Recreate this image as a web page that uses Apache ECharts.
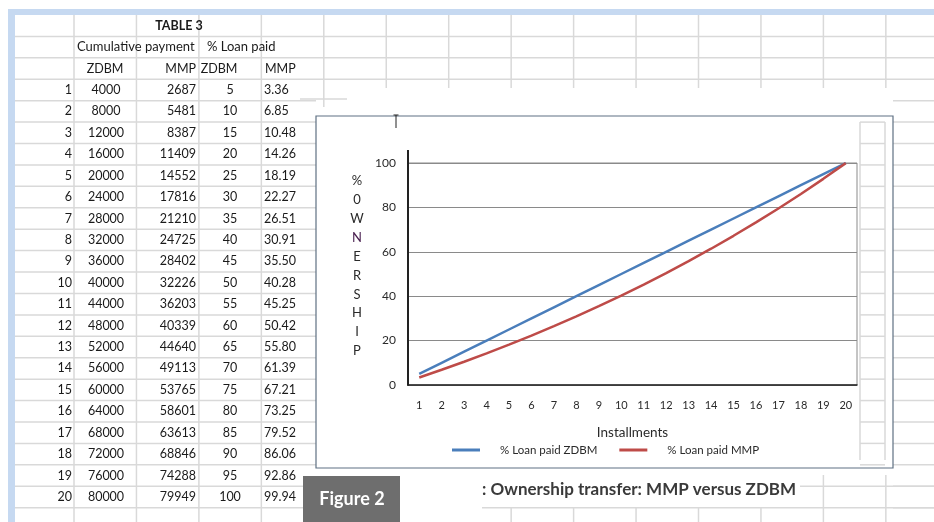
<!DOCTYPE html>
<html>
<head>
<meta charset="utf-8">
<title>Ownership transfer: MMP versus ZDBM</title>
<script src="https://cdn.jsdelivr.net/npm/echarts@6/dist/echarts.min.js"></script>
<style>
  html, body { margin: 0; padding: 0; background: #fff; }
  #main { width: 934px; height: 522px; }
</style>
</head>
<body>
<div id="main"></div>
<script>
// table 3 data
var installments = ['1', '2', '3', '4', '5', '6', '7', '8', '9', '10',
  '11', '12', '13', '14', '15', '16', '17', '18', '19', '20']
var cumZDBM = [4000, 8000, 12000, 16000, 20000, 24000, 28000, 32000, 36000, 40000,
  44000, 48000, 52000, 56000, 60000, 64000, 68000, 72000, 76000, 80000]
var cumMMP = [2687, 5481, 8387, 11409, 14552, 17816, 21210, 24725, 28402, 32226,
  36203, 40339, 44640, 49113, 53765, 58601, 63613, 68846, 74288, 79949]
var pctZDBM = [5, 10, 15, 20, 25, 30, 35, 40, 45, 50,
  55, 60, 65, 70, 75, 80, 85, 90, 95, 100]
var pctMMP = [3.36, 6.85, 10.48, 14.26, 18.19, 22.27, 26.51, 30.91, 35.50, 40.28,
  45.25, 50.42, 55.80, 61.39, 67.21, 73.25, 79.52, 86.06, 92.86, 99.94]
var yTitle = ['%', '0', 'W', 'N', 'E', 'R', 'S', 'H', 'I', 'P']

var FONT = 'Lato, "Open Sans", sans-serif'
var GRID = '#d9d9d9'
var ROW0 = 15
var ROWH = 21.42
var COLW = 62.45

function rowY(i) { return ROW0 + ROWH * i }

var g = []

function line(x1, y1, x2, y2, color, w, z) {
  g.push({
    type: 'line', z: z === undefined ? -10 : z, silent: true,
    shape: { x1: x1, y1: y1, x2: x2, y2: y2 },
    style: { stroke: color || GRID, lineWidth: w || 1.5 }
  })
}
function text(str, x, y, opt) {
  opt = opt || {}
  g.push({
    type: 'text', z: opt.z || 5, silent: true, x: x, y: y,
    style: {
      text: str, fill: opt.color || '#1a1a1a', fontFamily: FONT,
      fontSize: opt.size || 12.5, fontWeight: opt.weight || 'normal',
      align: opt.align || 'center', verticalAlign: 'middle'
    }
  })
}

// spreadsheet frame
g.push({ type: 'rect', z: -9, silent: true, shape: { x: 8, y: 9, width: 926, height: 6 }, style: { fill: '#c6d9f1' } })
g.push({ type: 'rect', z: -9, silent: true, shape: { x: 8, y: 9, width: 7, height: 513 }, style: { fill: '#c6d9f1' } })

// horizontal gridlines
for (var i = 1; i <= 23; i++) {
  var y = rowY(i)
  line(15, y, i <= 3 ? 934 : 316, y)
  if (i >= 4) line(893, y, 934, y)
  if (i >= 5 && i <= 21) line(860, y, 885, y, GRID, 1.5, -4)
}
line(300, 99, 347, 99)
line(800, rowY(22), 934, rowY(22))
line(482, rowY(23), 934, rowY(23))

// vertical gridlines
for (var c = 0; c < 14; c++) {
  var x = 74 + COLW * c
  if (c < 4) {
    line(x, 15, x, 522)
  } else if (c === 4) {
    line(x, 15, x, 107)
  } else {
    line(x, 15, x, 88)
    if (x > 490 && x < 800) line(x, rowY(23), x, 522)
    if (x >= 800) line(x, 475, x, 522)
  }
}
line(860, 122, 860, 460, GRID, 1.5, -4)
line(885, 122, 885, 460, GRID, 1.5, -4)

// table text
text('TABLE 3', 179, rowY(0.5), { weight: 'bold' })
text('Cumulative payment', 77, rowY(1.5), { align: 'left', size: 13 })
text('% Loan paid', 207, rowY(1.5), { align: 'left', size: 13 })
text('ZDBM', 105, rowY(2.5))
text('MMP', 196, rowY(2.5), { align: 'right' })
text('ZDBM', 219, rowY(2.5))
text('MMP', 265, rowY(2.5), { align: 'left' })
for (var k = 0; k < installments.length; k++) {
  var ry = rowY(k + 3.5)
  text(installments[k], 72, ry, { align: 'right' })
  text(String(cumZDBM[k]), 106, ry)
  text(String(cumMMP[k]), 196, ry, { align: 'right' })
  text(String(pctZDBM[k]), 230, ry)
  text(pctMMP[k].toFixed(2), 264, ry, { align: 'left' })
}

// chart box
g.push({
  type: 'rect', z: -5, silent: true,
  shape: { x: 316, y: 116, width: 577, height: 352 },
  style: { fill: '#fff', stroke: '#5f7183', lineWidth: 1.2 }
})
// text cursor
line(396, 115, 396, 128, '#222', 1, 6)
line(393.5, 115, 398.5, 115, '#222', 1, 6)
// y axis line overhang
line(408, 150, 408, 164, '#222', 2, 6)

// vertical axis title
for (var t = 0; t < yTitle.length; t++) {
  text(yTitle[t], 357, 181 + 18.9 * t, { size: 13, color: yTitle[t] === 'N' ? '#4a2050' : '#2a2a2a' })
}

// figure label and caption
g.push({
  type: 'rect', z: 8, silent: true,
  shape: { x: 303, y: 476, width: 97, height: 46 },
  style: { fill: '#6e6e6e' }
})
text('Figure 2', 352, 499, { size: 18, weight: 'bold', color: '#fff', z: 9 })
text(': Ownership transfer: MMP versus ZDBM', 482, 490, { size: 17, weight: 'bold', color: '#3a3a3a', align: 'left' })

var chart = echarts.init(document.getElementById('main'))
var option = {
  animation: false,
  textStyle: { fontFamily: FONT },
  grid: {
    left: 408, right: 77, top: 163, bottom: 137,
    show: true, borderColor: '#8a8a8a', borderWidth: 1, backgroundColor: 'transparent'
  },
  legend: {
    left: 447, top: 439,
    itemWidth: 28, itemHeight: 3, itemGap: 22,
    icon: 'rect',
    textStyle: { fontSize: 11.5, color: '#2a2a2a', padding: [0, 0, 0, 15] },
    data: ['% Loan paid ZDBM', '% Loan paid MMP']
  },
  xAxis: {
    type: 'category',
    data: installments,
    boundaryGap: true,
    name: 'Installments',
    nameLocation: 'middle',
    nameGap: 41,
    nameTextStyle: { fontSize: 13.5, color: '#2a2a2a' },
    axisLine: { lineStyle: { color: '#222', width: 1.5 } },
    axisTick: { show: false },
    axisLabel: { fontSize: 11, color: '#2a2a2a', margin: 15 }
  },
  yAxis: {
    type: 'value',
    min: 0, max: 100, interval: 20,
    axisLine: { show: true, lineStyle: { color: '#222', width: 2 } },
    axisTick: { show: false },
    axisLabel: { fontSize: 12, color: '#2a2a2a', margin: 12 },
    splitLine: { lineStyle: { color: '#8a8a8a', width: 1 } }
  },
  series: [
    {
      name: '% Loan paid ZDBM',
      type: 'line',
      data: pctZDBM,
      symbol: 'none',
      lineStyle: { color: '#4a7ebb', width: 2.5 },
      itemStyle: { color: '#4a7ebb' }
    },
    {
      name: '% Loan paid MMP',
      type: 'line',
      data: pctMMP,
      symbol: 'none',
      lineStyle: { color: '#be4b48', width: 2.5 },
      itemStyle: { color: '#be4b48' }
    }
  ],
  graphic: { elements: g }
}
chart.setOption(option)
</script>
</body>
</html>
